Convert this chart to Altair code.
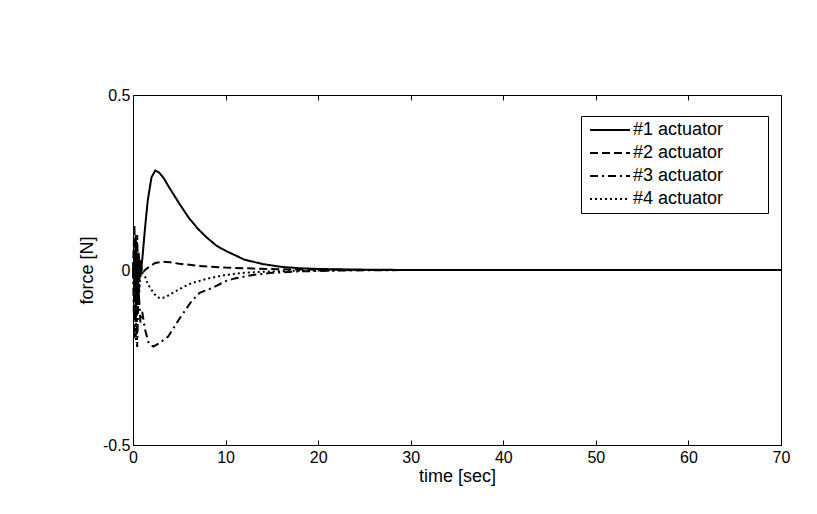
import altair as alt
import pandas as pd

series_names = ["#1 actuator", "#2 actuator", "#3 actuator", "#4 actuator"]

t1 = [0, 0.15, 0.3, 0.45, 0.6, 0.8, 1.0, 1.3, 1.6, 2.0, 2.4, 2.8, 3.3, 4, 5, 6, 7, 8, 9, 10, 12, 14, 16, 18, 20, 22, 25, 30, 40, 50, 60, 70]
f1 = [0, -0.05, 0.1, -0.1, 0.05, -0.02, 0.03, 0.12, 0.2, 0.265, 0.284, 0.279, 0.263, 0.232, 0.19, 0.15, 0.118, 0.092, 0.07, 0.055, 0.03, 0.017, 0.009, 0.005, 0.003, 0.002, 0.001, 0, 0, 0, 0, 0]

t2 = [0, 0.15, 0.3, 0.45, 0.6, 0.8, 1.0, 1.3, 1.8, 2.4, 3.2, 4, 5, 7, 10, 13, 16, 20, 25, 30, 40, 50, 60, 70]
f2 = [0, 0.13, -0.15, 0.1, -0.08, 0.03, -0.01, 0.0, 0.01, 0.02, 0.024, 0.022, 0.018, 0.012, 0.007, 0.004, 0.002, 0.001, 0, 0, 0, 0, 0, 0]

t3 = [0, 0.15, 0.3, 0.45, 0.6, 0.8, 1.0, 1.3, 1.7, 2.2, 2.8, 3.8, 5, 6.3, 7.2, 8.5, 10, 11, 13, 15, 18, 21, 25, 30, 40, 50, 60, 70]
f3 = [0, -0.2, 0.08, -0.22, -0.05, -0.15, -0.12, -0.17, -0.21, -0.219, -0.21, -0.19, -0.14, -0.09, -0.065, -0.052, -0.032, -0.024, -0.014, -0.008, -0.004, -0.002, -0.001, 0, 0, 0, 0, 0]

t4 = [0, 0.15, 0.3, 0.45, 0.6, 0.8, 1.0, 1.3, 1.6, 2.0, 2.5, 2.9, 3.5, 4.5, 5.5, 6.3, 8, 10, 12, 15, 18, 22, 25, 30, 40, 50, 60, 70]
f4 = [0, 0.05, -0.2, 0.06, -0.1, 0.0, -0.01, -0.019, -0.04, -0.057, -0.075, -0.081, -0.078, -0.062, -0.048, -0.038, -0.025, -0.014, -0.008, -0.004, -0.002, -0.001, 0, 0, 0, 0, 0, 0]

x_ticks = [0, 10, 20, 30, 40, 50, 60, 70]
y_ticks = [-0.5, 0, 0.5]

rows = []
for name, ts, fs in zip(series_names, [t1, t2, t3, t4], [f1, f2, f3, f4]):
    for i, (t, f) in enumerate(zip(ts, fs)):
        rows.append({"series": name, "time": t, "force": f, "order": i})
df = pd.DataFrame(rows)

FONT = "Liberation Sans"
ylab = "datum.value == 0 ? '0' : (datum.value < 0 ? '-' + format(-datum.value, '.1f') : format(datum.value, '.1f'))"

xscale = alt.Scale(domain=[0, 70], nice=False, zero=False)
yscale = alt.Scale(domain=[-0.5, 0.5], nice=False, zero=False)

pad = "\u2800" * 3

lines = alt.Chart(df).mark_line(color="black", strokeWidth=2).encode(
    x=alt.X("time:Q", scale=xscale, axis=alt.Axis(
        title="time [sec]", values=x_ticks, orient="bottom", offset=-5, tickSize=5,
        labelPadding=4, titlePadding=2, domain=False, grid=False, labelFlush=False)),
    y=alt.Y("force:Q", scale=yscale, axis=alt.Axis(
        title="force [N]", values=y_ticks, orient="left", offset=-5, tickSize=5,
        labelPadding=3, titlePadding=6, domain=False, grid=False, labelFlush=False,
        labelExpr=ylab)),
    strokeDash=alt.StrokeDash("series:N", scale=alt.Scale(
        domain=series_names, range=[[1, 0], [8, 4], [8, 4, 2, 4], [2, 3]]),
        legend=alt.Legend(
            title=None, orient="none", legendX=448, legendY=21,
            symbolType="M-4,0L4,0", symbolSize=100, symbolOffset=15,
            symbolStrokeColor="black", symbolStrokeWidth=2,
            labelOffset=14, rowPadding=5, padding=5,
            strokeColor="black", fillColor="white",
            labelFontSize=18, labelFont=FONT, labelColor="black",
            labelExpr="datum.label + '" + pad + "'")),
    order="order:Q",
)

frame_ticks = alt.Chart(df).mark_line(opacity=0).encode(
    x=alt.X("time:Q", scale=xscale, axis=alt.Axis(
        title=None, values=x_ticks, orient="top", offset=-5, tickSize=5,
        labels=False, domain=False, grid=False)),
    y=alt.Y("force:Q", scale=yscale, axis=alt.Axis(
        title=None, values=y_ticks, orient="right", offset=-5, tickSize=5,
        labels=False, domain=False, grid=False)),
    detail="series:N",
)

chart = alt.layer(lines, frame_ticks).resolve_axis(
    x="independent", y="independent"
).properties(
    width=648, height=350,
    autosize=alt.AutoSizeParams(type="none"),
    padding={"left": 133, "top": 95, "right": 36, "bottom": 69},
    background="white",
).configure_view(
    stroke="black", strokeWidth=1
).configure_axis(
    labelFont=FONT, titleFont=FONT, labelFontSize=16, titleFontSize=18,
    labelColor="black", titleColor="black", tickColor="black",
    titleFontWeight="normal", tickWidth=1,
)

chart.save("out.html", embed_options={"renderer": "svg", "actions": False})
